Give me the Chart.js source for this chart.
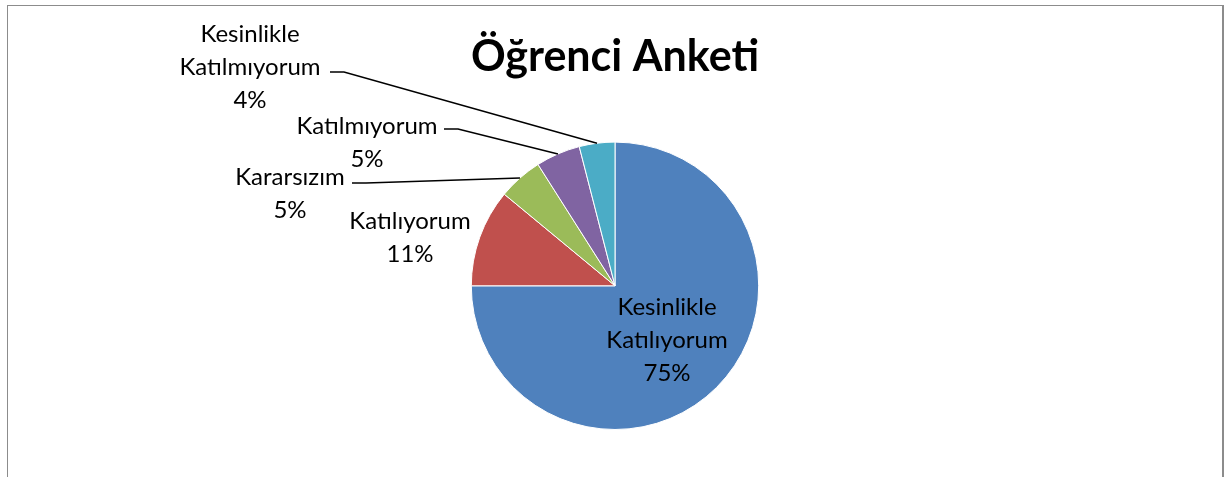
<!DOCTYPE html>
<html lang="tr">
<head>
  <meta charset="UTF-8">
  <title>Öğrenci Anketi</title>
  <script src="https://cdn.jsdelivr.net/npm/chart.js@4/dist/chart.umd.min.js"></script>
  <style>
    html, body { margin: 0; padding: 0; background: #fff; }
    #wrap { position: relative; width: 1230px; height: 477px; overflow: hidden; }
    #frame { position: absolute; left: 7px; top: 5px; width: 1214px; height: 500px; border: 1px solid #8c8c8c; border-right-width: 2px; }
    #cChart { position: absolute; left: 0; top: 0; }
  </style>
</head>
<body>
<div id="wrap">
  <div id="frame"></div>
  <canvas id="cChart" width="1230" height="477"></canvas>
</div>
<script>
const labels = ['Kesinlikle Katılıyorum', 'Katılıyorum', 'Kararsızım', 'Katılmıyorum', 'Kesinlikle Katılmıyorum'];
const values = [75, 11, 5, 5, 4];
const colors = ['#4F81BD', '#C0504D', '#9BBB59', '#8064A2', '#4BACC6'];

// label text lines and where to put them (inside / outside with leader line)
const labelLines = [
  ['Kesinlikle', 'Katılıyorum'],
  ['Katılıyorum'],
  ['Kararsızım'],
  ['Katılmıyorum'],
  ['Kesinlikle', 'Katılmıyorum']
];
const labelPos = [
  { x: 667, y: 307, leader: false },
  { x: 410, y: 221, leader: false },
  { x: 290, y: 177, leader: { x: 352, y: 183 } },
  { x: 367, y: 126, leader: { x: 444, y: 129 } },
  { x: 250, y: 34,  leader: { x: 330, y: 72 } }
];

const pieLabels = {
  id: 'pieLabels',
  afterDatasetsDraw(chart) {
    const ctx = chart.ctx;
    const meta = chart.getDatasetMeta(0);
    const total = values.reduce((a, b) => a + b, 0);
    ctx.save();
    ctx.font = '24px Lato, "Open Sans", sans-serif';
    ctx.fillStyle = '#000';
    ctx.textAlign = 'center';
    ctx.textBaseline = 'middle';
    meta.data.forEach((arc, i) => {
      const p = labelPos[i];
      const lines = labelLines[i].concat([Math.round(values[i] / total * 100) + '%']);
      lines.forEach((t, k) => ctx.fillText(t, p.x, p.y + k * 33));
      if (p.leader) {
        const mid = (arc.startAngle + arc.endAngle) / 2;
        const ex = arc.x + Math.cos(mid) * arc.outerRadius;
        const ey = arc.y + Math.sin(mid) * arc.outerRadius;
        ctx.beginPath();
        ctx.lineWidth = 1.5;
        ctx.strokeStyle = '#000';
        ctx.moveTo(p.leader.x, p.leader.y);
        ctx.lineTo(p.leader.x + 14, p.leader.y);
        ctx.lineTo(ex, ey);
        ctx.stroke();
      }
    });
    ctx.restore();
  }
};

const data = {
  labels: labels,
  datasets: [{
    data: values,
    backgroundColor: colors,
    borderColor: '#ffffff',
    borderWidth: 1
  }]
};

const config = {
  type: 'pie',
  data: data,
  options: {
    responsive: false,
    animation: false,
    layout: { padding: { top: 0, bottom: 47, left: 0, right: 0 } },
    plugins: {
      legend: { display: false },
      tooltip: { enabled: false },
      title: {
        display: true,
        text: 'Öğrenci Anketi',
        color: '#000',
        font: { family: 'Lato, "Open Sans", sans-serif', size: 43, weight: 'bold', lineHeight: 1.2 },
        padding: { top: 31, bottom: 59 }
      }
    }
  },
  plugins: [pieLabels]
};

const cChart = new Chart(document.getElementById('cChart'), config);
</script>
</body>
</html>
